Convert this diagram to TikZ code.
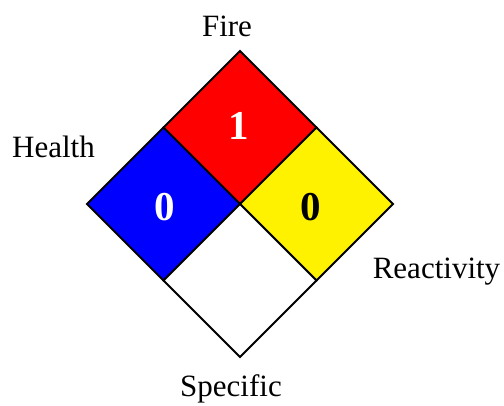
\documentclass[tikz,border=0pt]{standalone}
\usepackage{fontspec}
\setmainfont{Liberation Serif}
\usepackage{xcolor}

\begin{document}
\begin{tikzpicture}[x=1pt, y=1pt, line join=miter,
    label/.style={anchor=base, inner sep=0pt, font=\fontsize{31}{36}\selectfont},
    rating/.style={inner sep=0pt, font=\fontsize{41}{48}\selectfont\bfseries},
    box/.style={draw=black, line width=1.8pt}]
    \useasboundingbox (0,0) rectangle (504,405);
    \pgfmathsetmacro{\cx}{240}
    \pgfmathsetmacro{\cy}{201}
    \pgfmathsetmacro{\h}{153}
    \pgfmathsetmacro{\q}{\h/2}
    % corners of the diamond
    \coordinate (C) at (\cx,\cy);
    \coordinate (T) at (\cx,{\cy+\h});
    \coordinate (B) at (\cx,{\cy-\h});
    \coordinate (L) at ({\cx-\h},\cy);
    \coordinate (R) at ({\cx+\h},\cy);
    \coordinate (TL) at ({\cx-\q},{\cy+\q});
    \coordinate (TR) at ({\cx+\q},{\cy+\q});
    \coordinate (BL) at ({\cx-\q},{\cy-\q});
    \coordinate (BR) at ({\cx+\q},{\cy-\q});
    % the four squares
    \filldraw[box, fill=red]    (T) -- (TR) -- (C) -- (TL) -- cycle;
    \filldraw[box, fill=blue]   (TL) -- (C) -- (BL) -- (L) -- cycle;
    \filldraw[box, fill=yellow] (TR) -- (R) -- (BR) -- (C) -- cycle;
    \filldraw[box, fill=white]  (C) -- (BR) -- (B) -- (BL) -- cycle;
    % ratings
    \node[rating, white] (fire) at ({\cx-1},{\cy+\q+2}) {1};
    \node[rating, white] (health) at ({\cx-\q+1},{\cy-3}) {0};
    \node[rating, black] (react) at ({\cx+\q-6},{\cy-3}) {0};
    % captions
    \node[label] (firelbl) at (227,368) {Fire};
    \node[label] (healthlbl) at (53.5,247) {Health};
    \node[label] (reactlbl) at (436.5,126) {Reactivity};
    \node[label] (speclbl) at (231,9) {Specific};
\end{tikzpicture}
\end{document}
